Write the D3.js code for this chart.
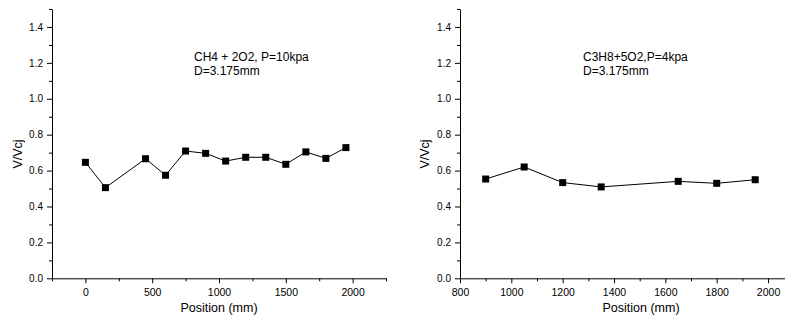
<!DOCTYPE html>
<html>
<head>
<meta charset="utf-8">
<script src="https://cdn.jsdelivr.net/npm/d3@7"></script>
<style>
  body { margin: 0; background: #fff; }
  svg { display: block; font-family: "Liberation Sans", Arial, sans-serif; }
  .axis path, .axis line { stroke: #000; }
  .axis text { fill: #000; }
</style>
</head>
<body>
<div id="chart"></div>
<script>
// ---------- data ----------
var ch4Position = [0, 150, 450, 600, 750, 900, 1050, 1200, 1350, 1500, 1650, 1800, 1950];
var ch4Ratio = [0.646, 0.505, 0.666, 0.574, 0.709, 0.696, 0.653, 0.674, 0.674, 0.635, 0.704, 0.668, 0.728];

var c3h8Position = [900, 1050, 1200, 1350, 1650, 1800, 1950];
var c3h8Ratio = [0.553, 0.620, 0.533, 0.509, 0.540, 0.529, 0.549];

var yTicks = [0.0, 0.2, 0.4, 0.6, 0.8, 1.0, 1.2, 1.4];
var yMinor = [0.1, 0.3, 0.5, 0.7, 0.9, 1.1, 1.3, 1.5];
var ch4XTicks = [0, 500, 1000, 1500, 2000];
var ch4XMinor = [-250, 250, 750, 1250, 1750, 2250];
var c3h8XTicks = [800, 1000, 1200, 1400, 1600, 1800, 2000];
var c3h8XMinor = [900, 1100, 1300, 1500, 1700, 1900, 2100];

var svg = d3.select("#chart").append("svg")
    .attr("width", 785)
    .attr("height", 323);

// ---------- one panel ----------
function panel(opt) {
  var x = d3.scaleLinear().domain(opt.xDomain).range([opt.left, opt.right]);
  var y = d3.scaleLinear().domain([0, 1.5]).range([278.3, 9]);

  var g = svg.append("g");

  // minor ticks
  g.append("g").attr("class", "axis")
      .attr("transform", "translate(0,278.3)")
      .call(d3.axisBottom(x).tickValues(opt.xMinor).tickSize(3).tickSizeOuter(0).tickFormat(""))
      .select(".domain").remove();
  g.append("g").attr("class", "axis")
      .attr("transform", "translate(" + opt.left + ",0)")
      .call(d3.axisLeft(y).tickValues(yMinor).tickSize(3).tickSizeOuter(0).tickFormat(""))
      .select(".domain").remove();

  // major axes
  var xa = g.append("g").attr("class", "axis")
      .attr("transform", "translate(0,278.3)")
      .call(d3.axisBottom(x).tickValues(opt.xTicks).tickSize(5).tickSizeOuter(0).tickPadding(5).tickFormat(d3.format("d")));
  xa.selectAll("text").style("font-size", "10.5px");

  var ya = g.append("g").attr("class", "axis")
      .attr("transform", "translate(" + opt.left + ",0)")
      .call(d3.axisLeft(y).tickValues(yTicks).tickSize(5).tickSizeOuter(0).tickPadding(4).tickFormat(d3.format(".1f")));
  ya.selectAll("text").style("font-size", "10px");

  // axis titles
  g.append("text")
      .attr("x", opt.xTitle)
      .attr("y", 312)
      .attr("text-anchor", "middle")
      .style("font-size", "12.5px")
      .text("Position (mm)");

  g.append("text")
      .attr("transform", "translate(" + opt.yTitle + ",154) rotate(-90)")
      .attr("text-anchor", "middle")
      .style("font-size", "12.5px")
      .text("V/Vcj");

  // note
  var note = g.append("text")
      .attr("x", opt.noteX)
      .attr("y", 61)
      .style("font-size", "12px");
  note.append("tspan").attr("x", opt.noteX).text(opt.note);
  note.append("tspan").attr("x", opt.noteX).attr("dy", 14).text("D=3.175mm");

  // series
  var pts = opt.xs.map(function(d, i){ return [d, opt.ys[i]]; });
  var line = d3.line()
      .x(function(d){ return x(d[0]); })
      .y(function(d){ return y(d[1]); });

  g.append("path")
      .datum(pts)
      .attr("d", line)
      .attr("fill", "none")
      .attr("stroke", "#000")
      .attr("stroke-width", 1);

  g.selectAll(".pt")
      .data(pts)
      .enter()
      .append("rect")
        .attr("class", "pt")
        .attr("x", function(d){ return x(d[0]) - 3.5; })
        .attr("y", function(d){ return y(d[1]) - 3.5; })
        .attr("width", 7)
        .attr("height", 7)
        .attr("fill", "#000");
}

panel({
  xDomain: [-250, 2250], left: 52, right: 386,
  xTicks: ch4XTicks, xMinor: ch4XMinor,
  xs: ch4Position, ys: ch4Ratio,
  xTitle: 219, yTitle: 22,
  noteX: 194, note: "CH4 + 2O2, P=10kpa"
});

panel({
  xDomain: [800, 2100], left: 460, right: 460 + 1300 * 0.2567,
  xTicks: c3h8XTicks, xMinor: c3h8XMinor,
  xs: c3h8Position, ys: c3h8Ratio,
  xTitle: 641, yTitle: 429,
  noteX: 583, note: "C3H8+5O2,P=4kpa"
});
</script>
</body>
</html>
